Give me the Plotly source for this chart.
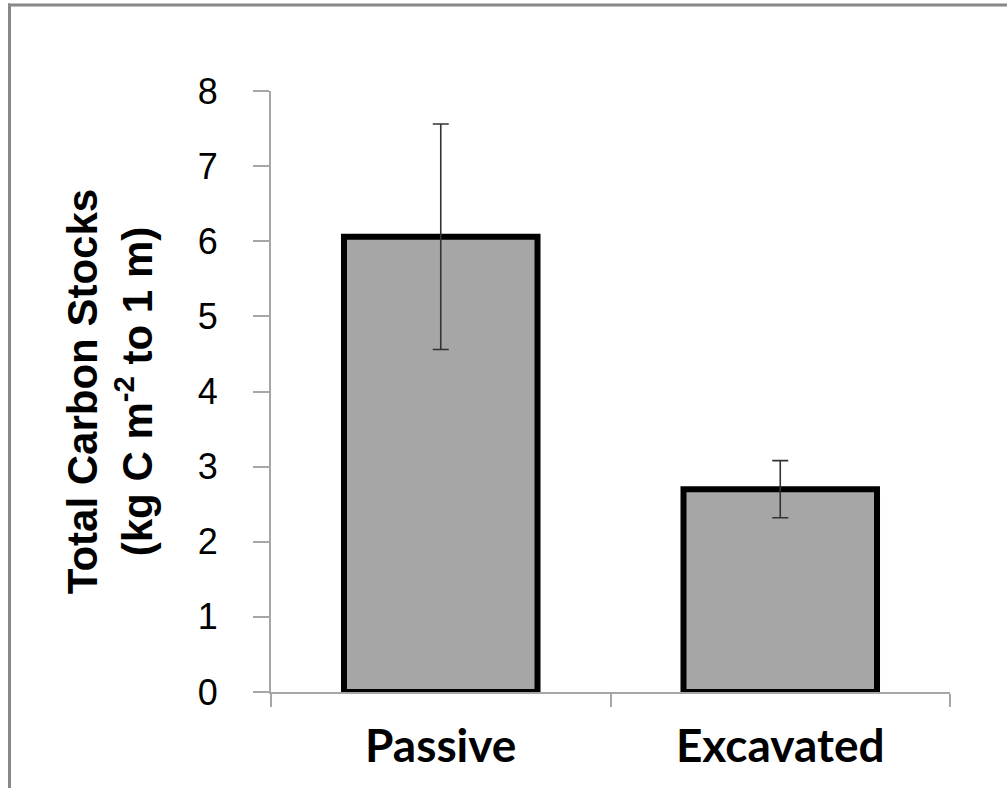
import plotly.graph_objects as go

categories = ["Passive", "Excavated"]
carbon_stocks = [6.06, 2.70]
std_error = [1.50, 0.38]
y_ticks = [0, 1, 2, 3, 4, 5, 6, 7, 8]

W, H = 1007, 788
L, R, T, B = 271, 57, 91, 96

fig = go.Figure()
fig.add_trace(go.Bar(
    x=categories,
    y=carbon_stocks,
    width=0.57,
    marker=dict(color="#a6a6a6", line=dict(color="#000000", width=6)),
    error_y=dict(type="data", array=std_error, visible=True,
                 color="#333333", thickness=1.6, width=8),
    showlegend=False,
))

pw = W - L - R
ph = H - T - B
# decorative frame (left & top edges visible, like the cropped original)
frame = dict(color="#888888", width=3)
fig.add_shape(type="line", xref="paper", yref="paper",
              x0=(9.5 - L) / pw, x1=(9.5 - L) / pw,
              y0=-(B + 20) / ph, y1=(H - B - 3.5) / ph, line=frame)
fig.add_shape(type="line", xref="paper", yref="paper",
              x0=(8 - L) / pw, x1=(W + 20 - L) / pw,
              y0=(H - B - 5) / ph, y1=(H - B - 5) / ph, line=frame)

fig.update_layout(
    width=W, height=H,
    margin=dict(l=L, r=R, t=T, b=B, autoexpand=False),
    paper_bgcolor="white", plot_bgcolor="white",
    xaxis=dict(
        type="category", range=[-0.5, 1.5],
        showline=True, linecolor="#a6a6a6", linewidth=2,
        ticks="outside", ticklen=13, tickwidth=2, tickcolor="#a6a6a6",
        tickson="boundaries", showgrid=False, zeroline=False,
        tickfont=dict(family="Lato, Open Sans, sans-serif", size=46, color="#000000", weight="bold"),
        ticklabelstandoff=13,
    ),
    yaxis=dict(
        range=[0, 8], tickvals=y_ticks,
        showline=True, linecolor="#a6a6a6", linewidth=2,
        ticks="outside", ticklen=16, tickwidth=2, tickcolor="#a6a6a6",
        showgrid=False, zeroline=False,
        tickfont=dict(family="Liberation Sans, Arial, sans-serif", size=36, color="#000000"),
        ticklabelstandoff=28,
        title=dict(
            text="<b>Total Carbon Stocks<br>(kg C m<sup>-2</sup> to 1 m)</b>",
            font=dict(family="Liberation Sans, Arial, sans-serif",
                      size=42, color="#000000"),
            standoff=32,
        ),
    ),
)

fig.write_html(
    "out.html",
    config={"displayModeBar": False},
    post_script="document.body.style.margin='0';document.body.style.overflow='hidden';",
)
